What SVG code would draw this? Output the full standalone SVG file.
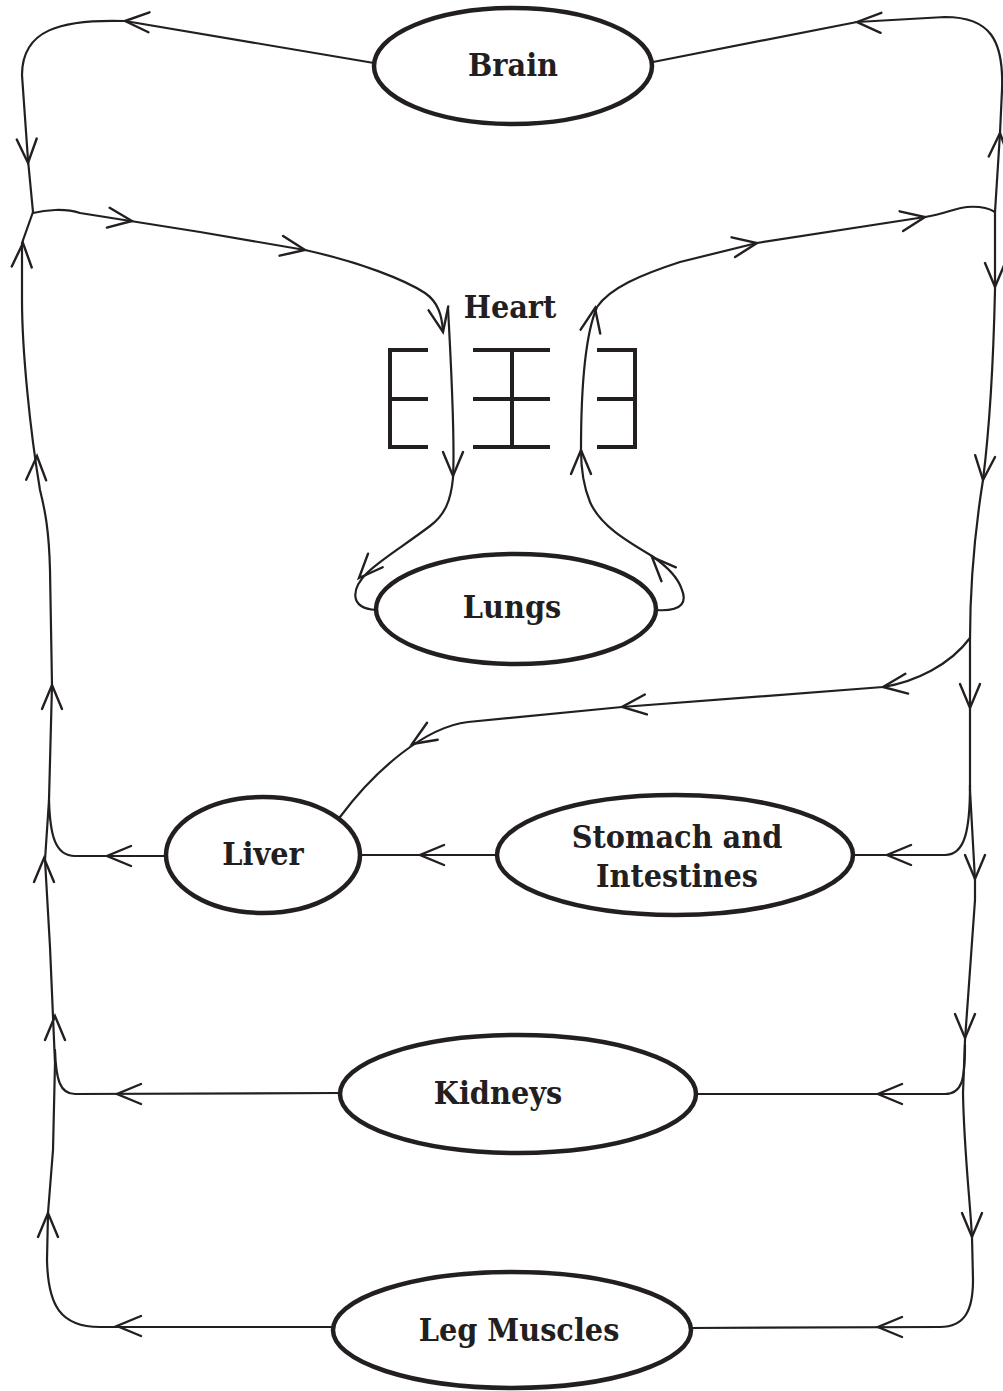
<svg xmlns="http://www.w3.org/2000/svg" xmlns:xlink="http://www.w3.org/1999/xlink" width="1003" height="1391" viewBox="0 0 1003 1391">
<style>
.node{fill:#fff;stroke:#231f20;stroke-width:4.5}
.lbl{font-family:"DejaVu Serif Condensed","DejaVu Serif",serif;font-weight:bold;font-size:32px;fill:#231f20;text-anchor:middle}
.c{fill:none;stroke:#231f20;stroke-width:2.2;stroke-linecap:round;stroke-linejoin:round}
.hs{fill:none;stroke:#231f20;stroke-width:4}
</style>
<defs>
<path id="ah" d="M-24,-10 L0,0 L-24,10" fill="none" stroke="#231f20" stroke-width="2.4" stroke-linecap="round" stroke-linejoin="miter"/>
</defs>
<rect width="1003" height="1391" fill="#fff"/>
<g id="connectors">
<path class="c" d="M374,63 L125,21 C60,19 22,30 22,75 L28,160 L33,212"/>
<path class="c" d="M33,213 C45,210 65,208 80,213 L200,232 L305,250 C360,262 405,280 425,293 C438,302 442,315 443,332"/>
<path class="c" d="M448,308 C452,380 455,440 453,478 C451,500 445,515 430,526 C405,545 380,560 367,573 C352,588 348,608 376,610"/>
<path class="c" d="M656,610 C685,612 686,600 682,590 C678,577 665,565 652,556 C625,540 600,525 590,502 C583,485 581,470 581,450 C581,390 585,335 597,307 C610,288 640,275 680,262 L757,243 L925,217 C945,214 955,208 967,207 C980,206 990,209 995,212"/>
<path class="c" d="M995,212 L1000,133 L1002,90 C1004,40 990,17 945,17 L857,22 L653,62"/>
<path class="c" d="M995,212 L995,290 C993,380 988,440 983,480 C975,530 970,580 970,640 L970,790 L975,880 L975,900 L965,1040 L963,1093 C964,1150 970,1200 972,1237 L973,1280 C973,1310 965,1327 940,1327 L690,1328"/>
<path class="c" d="M970,638 C950,665 915,682 883,687 L622,707 L468,722 C425,727 375,770 340,817"/>
<path class="c" d="M970,785 C970,830 965,855 945,855 L853,855"/>
<path class="c" d="M497,855 L360,855"/>
<path class="c" d="M166,856 L75,856 C55,856 50,835 49,800"/>
<path class="c" d="M965,1045 C965,1080 962,1094 945,1094 L696,1094"/>
<path class="c" d="M340,1093 L75,1094 C60,1094 56,1080 55,1050"/>
<path class="c" d="M333,1327 L100,1327 C60,1327 48,1305 47,1260 L48,1213 L53,1150 L55,1063 L50,947 L45,860 L49,800 L52,685 L50,570 C49,530 45,510 40,490 C30,430 22,350 22,300 L22,243 L33,212"/>
<use xlink:href="#ah" transform="translate(125,21) rotate(183)"/>
<use xlink:href="#ah" transform="translate(28,163) rotate(87)"/>
<use xlink:href="#ah" transform="translate(132,221) rotate(8)"/>
<use xlink:href="#ah" transform="translate(305,250) rotate(10)"/>
<use xlink:href="#ah" transform="translate(443,332) rotate(79)"/>
<use xlink:href="#ah" transform="translate(453,476) rotate(90)"/>
<use xlink:href="#ah" transform="translate(359,578) rotate(133)"/>
<use xlink:href="#ah" transform="translate(652,557) rotate(226)"/>
<use xlink:href="#ah" transform="translate(581,450) rotate(270)"/>
<use xlink:href="#ah" transform="translate(595,308) rotate(281)"/>
<use xlink:href="#ah" transform="translate(757,243) rotate(-10)"/>
<use xlink:href="#ah" transform="translate(925,217) rotate(-10)"/>
<use xlink:href="#ah" transform="translate(1000,133) rotate(273)"/>
<use xlink:href="#ah" transform="translate(857,22) rotate(182)"/>
<use xlink:href="#ah" transform="translate(995,287) rotate(90)"/>
<use xlink:href="#ah" transform="translate(983,480) rotate(95)"/>
<use xlink:href="#ah" transform="translate(883,687) rotate(172)"/>
<use xlink:href="#ah" transform="translate(970,708) rotate(90)"/>
<use xlink:href="#ah" transform="translate(622,707) rotate(174)"/>
<use xlink:href="#ah" transform="translate(412,744) rotate(148)"/>
<use xlink:href="#ah" transform="translate(420,855) rotate(180)"/>
<use xlink:href="#ah" transform="translate(887,855) rotate(180)"/>
<use xlink:href="#ah" transform="translate(975,879) rotate(90)"/>
<use xlink:href="#ah" transform="translate(107,856) rotate(180)"/>
<use xlink:href="#ah" transform="translate(44,858) rotate(270)"/>
<use xlink:href="#ah" transform="translate(55,1016) rotate(270)"/>
<use xlink:href="#ah" transform="translate(117,1094) rotate(180)"/>
<use xlink:href="#ah" transform="translate(52,685) rotate(270)"/>
<use xlink:href="#ah" transform="translate(37,456) rotate(272)"/>
<use xlink:href="#ah" transform="translate(23,243) rotate(273)"/>
<use xlink:href="#ah" transform="translate(48,1213) rotate(270)"/>
<use xlink:href="#ah" transform="translate(117,1326) rotate(180)"/>
<use xlink:href="#ah" transform="translate(965,1038) rotate(90)"/>
<use xlink:href="#ah" transform="translate(878,1094) rotate(180)"/>
<use xlink:href="#ah" transform="translate(972,1237) rotate(90)"/>
<use xlink:href="#ah" transform="translate(878,1327) rotate(180)"/>
</g>
<g id="brain"><ellipse class="node" cx="513" cy="66" rx="139" ry="58"/><text class="lbl" x="513" y="76">Brain</text></g>
<g id="heart">
<text class="lbl" x="510" y="318">Heart</text>
<path class="hs" d="M428,350 H390 V447 H428 M390,399 H428"/>
<path class="hs" d="M473,350 H550 M473,399 H550 M473,447 H550 M512,350 V447"/>
<path class="hs" d="M597,350 H635 V447 H597 M597,399 H635"/>
</g>
<g id="lungs"><ellipse class="node" cx="516" cy="609" rx="140" ry="55"/><text class="lbl" x="512" y="618">Lungs</text></g>
<g id="liver"><ellipse class="node" cx="263" cy="855" rx="97" ry="58"/><text class="lbl" x="263" y="865">Liver</text></g>
<g id="stomach"><ellipse class="node" cx="675" cy="855" rx="178" ry="60"/><text class="lbl" x="677" y="848">Stomach and</text><text class="lbl" x="677" y="887">Intestines</text></g>
<g id="kidneys"><ellipse class="node" cx="518" cy="1094" rx="178" ry="59"/><text class="lbl" x="498" y="1104">Kidneys</text></g>
<g id="legs"><ellipse class="node" cx="512" cy="1330" rx="179" ry="58"/><text class="lbl" x="519" y="1341">Leg Muscles</text></g>
</svg>
